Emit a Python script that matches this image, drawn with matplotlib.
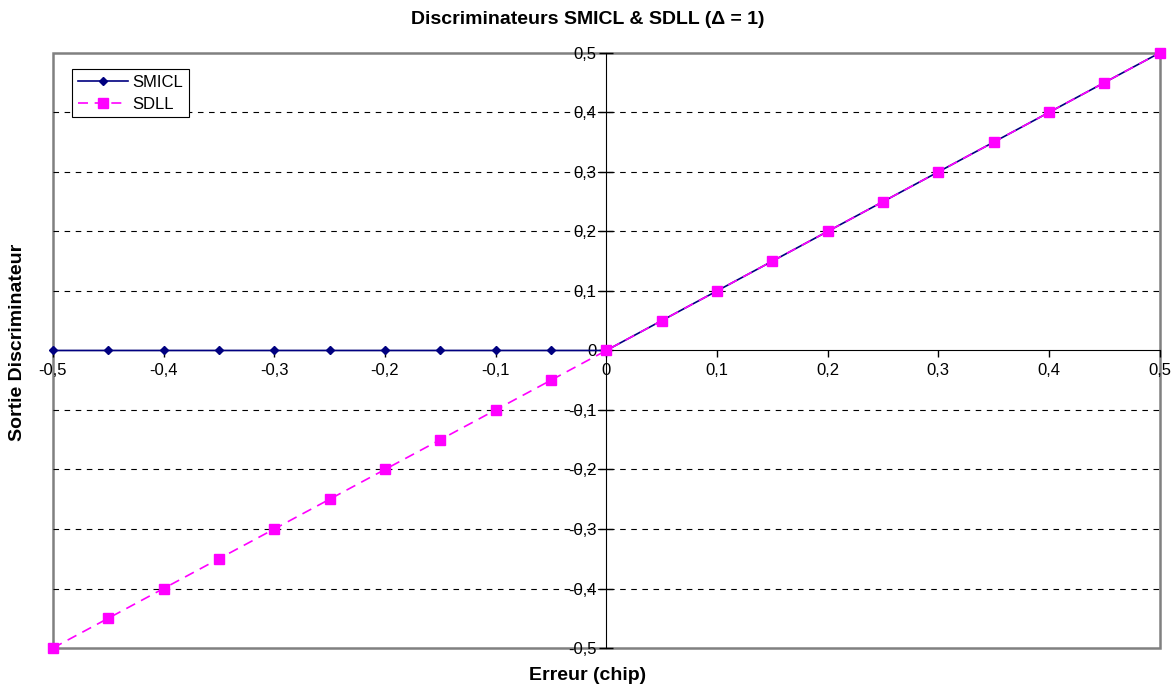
import matplotlib

matplotlib.use("Agg")
import matplotlib.pyplot as plt
import matplotlib.patches as mpatches
from matplotlib.ticker import FuncFormatter

plt.rcParams["font.family"] = ["Liberation Sans", "DejaVu Sans"]

# erreur en chip, pas de 0,05
erreur = [-0.5, -0.45, -0.4, -0.35, -0.3, -0.25, -0.2, -0.15, -0.1, -0.05, 0.0,
          0.05, 0.1, 0.15, 0.2, 0.25, 0.3, 0.35, 0.4, 0.45, 0.5]
smicl = [0.0, 0.0, 0.0, 0.0, 0.0, 0.0, 0.0, 0.0, 0.0, 0.0, 0.0,
         0.05, 0.1, 0.15, 0.2, 0.25, 0.3, 0.35, 0.4, 0.45, 0.5]
sdll = [-0.5, -0.45, -0.4, -0.35, -0.3, -0.25, -0.2, -0.15, -0.1, -0.05, 0.0,
        0.05, 0.1, 0.15, 0.2, 0.25, 0.3, 0.35, 0.4, 0.45, 0.5]
ticks = [-0.5, -0.4, -0.3, -0.2, -0.1, 0.0, 0.1, 0.2, 0.3, 0.4, 0.5]
grid_levels = [-0.4, -0.3, -0.2, -0.1, 0.1, 0.2, 0.3, 0.4]


def fr_fmt(v, _pos):
    if abs(v) < 1e-9:
        return "0"
    return f"{v:.1f}".replace(".", ",")


fig = plt.figure(figsize=(11.76, 6.84), dpi=100)
ax = fig.add_axes([0.045, 0.0526, 0.941, 0.87])
ax.set_xlim(-0.5, 0.5)
ax.set_ylim(-0.5, 0.5)

for lvl in grid_levels:
    ax.axhline(lvl, color="black", linewidth=0.8, linestyle=(0, (5, 5)), zorder=1)

ax.plot(erreur, smicl, color="#000080", linewidth=1.2, marker="D", markersize=4.2,
        label="SMICL", zorder=3, clip_on=False)
ax.plot(erreur, sdll, color="#FF00FF", linewidth=1.2, linestyle=(0, (6, 4)), marker="s",
        markersize=6.5, label="SDLL", zorder=4, clip_on=False)

for side in ("top", "right"):
    ax.spines[side].set_visible(False)
ax.spines["left"].set_position("zero")
ax.spines["bottom"].set_position("zero")
ax.spines["left"].set_color("black")
ax.spines["bottom"].set_color("black")
ax.add_patch(mpatches.Rectangle((0, 0), 1, 1, transform=ax.transAxes, fill=False,
                                edgecolor="#808080", linewidth=1.8, clip_on=False, zorder=0))

ax.set_xticks(ticks)
ax.set_yticks(ticks)
ax.xaxis.set_major_formatter(FuncFormatter(fr_fmt))
ax.yaxis.set_major_formatter(FuncFormatter(fr_fmt))
ax.tick_params(axis="x", direction="out", length=5, width=1, labelsize=12, pad=4)
ax.tick_params(axis="y", direction="inout", length=10, width=1, labelsize=12, pad=2)

fig.text(0.5, 0.971, "Discriminateurs SMICL & SDLL (\u0394 = 1)", ha="center", va="center",
         fontsize=14, fontweight="bold")
fig.text(0.5, 0.013, "Erreur (chip)", ha="center", va="center", fontsize=14, fontweight="bold")
fig.text(0.0153, 0.5, "Sortie Discriminateur", ha="center", va="center", rotation=90,
         fontsize=14, fontweight="bold")

leg = ax.legend(loc="upper left", bbox_to_anchor=(0.017, 0.973), fontsize=12, frameon=True,
                fancybox=False, edgecolor="black", framealpha=1, borderpad=0.35,
                handlelength=3.0, labelspacing=0.4, handletextpad=0.3, borderaxespad=0)
leg.get_frame().set_linewidth(0.8)

fig.savefig("out.png", dpi=100, facecolor="white")
